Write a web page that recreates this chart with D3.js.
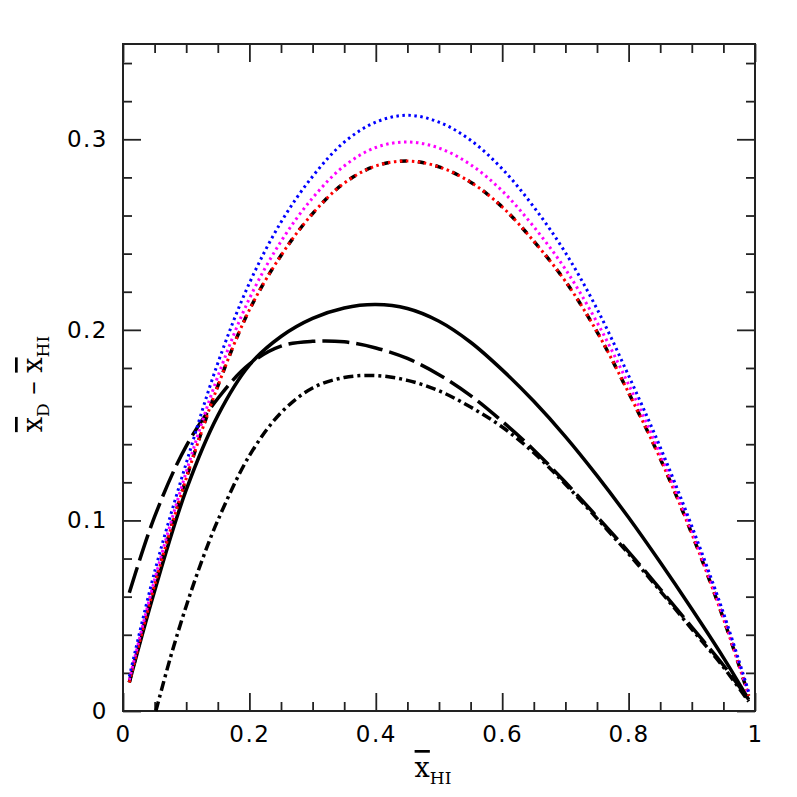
<!DOCTYPE html>
<html lang="en">
<head>
    <meta charset="UTF-8">
    <script src="https://d3js.org/d3.v7.min.js"></script>
    <title>x_D - x_HI</title>
    <style>
        body {
            margin: 0;
            background-color: #ffffff;
        }
        svg {
            display: block;
        }
        .tick text {
            font-family: "DejaVu Sans", sans-serif;
            font-size: 23px;
            letter-spacing: 1.5px;
            fill: #000;
        }
        .title {
            font-family: "DejaVu Serif", serif;
            font-size: 27px;
            fill: #000;
        }
        .bar {
            text-decoration: overline;
        }
    </style>
</head>
<body>

    <svg id="chart" width="797" height="797"></svg>

    <script>
        // values
        const xGrid = [0.01, 0.05, 0.1, 0.15, 0.2, 0.25, 0.3, 0.35, 0.4, 0.45, 0.5,
                       0.55, 0.6, 0.65, 0.7, 0.75, 0.8, 0.85, 0.9, 0.95, 0.99];

        const blueDotted    = [0.018, 0.073, 0.130, 0.1825, 0.2245, 0.2565, 0.2805, 0.2985, 0.309, 0.3126, 0.309,
                               0.2995, 0.2845, 0.2645, 0.2405, 0.211, 0.176, 0.1385, 0.097, 0.0515, 0.010];
        const magentaDotted = [0.0163, 0.0689, 0.1254, 0.1755, 0.2164, 0.2464, 0.2692, 0.286, 0.2957, 0.2986, 0.2954,
                               0.2867, 0.2729, 0.2541, 0.2318, 0.204, 0.1713, 0.135, 0.0947, 0.0498, 0.0088];
        const redDotted     = [0.015, 0.066, 0.122, 0.1705, 0.2105, 0.239, 0.261, 0.277, 0.286, 0.2886, 0.2855,
                               0.2775, 0.2645, 0.2465, 0.2255, 0.199, 0.167, 0.1325, 0.093, 0.0485, 0.008];
        const blackDashed   = redDotted;
        const solid         = [0.015, 0.063, 0.116, 0.155, 0.1815, 0.1965, 0.206, 0.2115, 0.2133, 0.2112, 0.2045,
                               0.1935, 0.179, 0.1625, 0.144, 0.1235, 0.1015, 0.078, 0.0535, 0.028, 0.006];
        const longDashed    = [0.062, 0.102, 0.139, 0.164, 0.182, 0.1915, 0.194, 0.1937, 0.1905, 0.185, 0.1765,
                               0.1655, 0.152, 0.137, 0.120, 0.102, 0.0835, 0.064, 0.044, 0.024, 0.006];

        // the dash-dot curve only starts once it is above zero
        const xDashDot = [0.052, 0.075, 0.1, 0.125, 0.15, 0.2, 0.25, 0.3, 0.35, 0.4, 0.45, 0.5,
                          0.55, 0.6, 0.65, 0.7, 0.75, 0.8, 0.85, 0.9, 0.95, 0.99];
        const dashDot  = [0.0, 0.028, 0.055, 0.079, 0.100, 0.134, 0.1565, 0.1695, 0.175, 0.176, 0.1735, 0.168,
                          0.1595, 0.149, 0.1355, 0.119, 0.101, 0.0825, 0.063, 0.043, 0.023, 0.005];

        const xMajor = [0, 0.2, 0.4, 0.6, 0.8, 1];
        const yMajor = [0, 0.1, 0.2, 0.3];

        const svg = d3.select("#chart");

        const plotLeft = 123, plotRight = 755, plotTop = 44, plotBottom = 711;
        const x = d3.scaleLinear().domain([0, 1]).range([plotLeft, plotRight]);
        const y = d3.scaleLinear().domain([0, 0.35]).range([plotBottom, plotTop]);

        const axisColor = "#222";
        const majorLen = 18, minorLen = 9;

        const xMinor = d3.range(0, 1.0001, 0.05).filter(v => !xMajor.some(m => Math.abs(m - v) < 1e-6));
        const yMinor = d3.range(0, 0.3501, 0.02).filter(v => !yMajor.some(m => Math.abs(m - v) < 1e-6));

        const fmt = d => d === 0 ? "0" : d === 1 ? "1" : d3.format(".1f")(d);

        // **axes, ticks pointing inward on all four sides**
        function styleAxis(g) {
            g.selectAll("path").remove();
            g.selectAll("line").attr("stroke", axisColor).attr("stroke-width", 1.8);
        }

        svg.append("g").attr("transform", `translate(0,${plotBottom})`)
            .call(d3.axisBottom(x).tickValues(xMajor).tickSize(-majorLen).tickPadding(15).tickFormat(fmt))
            .call(styleAxis);
        svg.append("g").attr("transform", `translate(0,${plotBottom})`)
            .call(d3.axisBottom(x).tickValues(xMinor).tickSize(-minorLen).tickFormat(""))
            .call(styleAxis);
        svg.append("g").attr("transform", `translate(0,${plotTop})`)
            .call(d3.axisTop(x).tickValues(xMajor).tickSize(-majorLen).tickFormat(""))
            .call(styleAxis);
        svg.append("g").attr("transform", `translate(0,${plotTop})`)
            .call(d3.axisTop(x).tickValues(xMinor).tickSize(-minorLen).tickFormat(""))
            .call(styleAxis);

        svg.append("g").attr("transform", `translate(${plotLeft},0)`)
            .call(d3.axisLeft(y).tickValues(yMajor).tickSize(-majorLen).tickPadding(15).tickFormat(fmt))
            .call(styleAxis);
        svg.append("g").attr("transform", `translate(${plotLeft},0)`)
            .call(d3.axisLeft(y).tickValues(yMinor).tickSize(-minorLen).tickFormat(""))
            .call(styleAxis);
        svg.append("g").attr("transform", `translate(${plotRight},0)`)
            .call(d3.axisRight(y).tickValues(yMajor).tickSize(-majorLen).tickFormat(""))
            .call(styleAxis);
        svg.append("g").attr("transform", `translate(${plotRight},0)`)
            .call(d3.axisRight(y).tickValues(yMinor).tickSize(-minorLen).tickFormat(""))
            .call(styleAxis);

        // frame
        svg.append("rect")
            .attr("x", plotLeft).attr("y", plotTop)
            .attr("width", plotRight - plotLeft).attr("height", plotBottom - plotTop)
            .attr("fill", "none")
            .attr("stroke", axisColor)
            .attr("stroke-width", 2);

        // **curves**
        const line = d3.line()
            .x(d => x(d[0]))
            .y(d => y(d[1]))
            .curve(d3.curveCatmullRom.alpha(0.5));

        const series = [
            { xs: xDashDot, ys: dashDot,       color: "#000", width: 3.5, dash: "10,4,3,4" },
            { xs: xGrid,    ys: longDashed,    color: "#000", width: 3.5, dash: "27,7" },
            { xs: xGrid,    ys: solid,         color: "#000", width: 3.5, dash: null },
            { xs: xGrid,    ys: blackDashed,   color: "#000", width: 3.5, dash: "7,11" },
            { xs: xGrid,    ys: redDotted,     color: "#ff0000", width: 3, dash: "2.5,3.5" },
            { xs: xGrid,    ys: magentaDotted, color: "#ff00ff", width: 3, dash: "2.5,3.5" },
            { xs: xGrid,    ys: blueDotted,    color: "#0000ff", width: 3, dash: "2.5,3.5" }
        ];

        svg.append("g").selectAll("path")
            .data(series)
            .join("path")
            .attr("d", s => line(s.xs.map((v, i) => [v, s.ys[i]])))
            .attr("fill", "none")
            .attr("stroke", s => s.color)
            .attr("stroke-width", s => s.width)
            .attr("stroke-dasharray", s => s.dash);

        // **axis titles**
        const xt = svg.append("text")
            .attr("class", "title")
            .attr("x", 433)
            .attr("y", 777)
            .attr("text-anchor", "middle");
        xt.append("tspan").attr("class", "bar").text("x");
        xt.append("tspan").attr("dy", 7).attr("font-size", 17).text("HI");

        const yt = svg.append("text")
            .attr("class", "title")
            .attr("transform", "translate(42,384) rotate(-90)")
            .attr("text-anchor", "middle");
        yt.append("tspan").attr("class", "bar").text("x");
        yt.append("tspan").attr("dy", 7).attr("font-size", 17).text("D");
        yt.append("tspan").attr("dy", -7).text("  \u2013  ");
        yt.append("tspan").attr("class", "bar").text("x");
        yt.append("tspan").attr("dy", 7).attr("font-size", 17).text("HI");
    </script>

</body>
</html>
